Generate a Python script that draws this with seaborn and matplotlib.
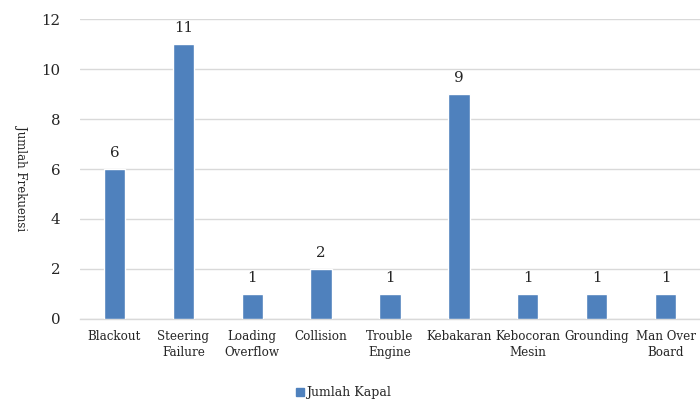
import matplotlib
matplotlib.use("Agg")
import matplotlib.pyplot as plt
import seaborn as sns
from matplotlib.lines import Line2D

# --- data ---
categories = ["Blackout", "Steering\nFailure", "Loading\nOverflow", "Collision",
              "Trouble\nEngine", "Kebakaran", "Kebocoran\nMesin", "Grounding",
              "Man Over\nBoard"]
values = [6, 11, 1, 2, 1, 9, 1, 1, 1]
series_name = "Jumlah Kapal"
y_label = "Jumlah Frekuensi"

BAR_COLOR = "#4F81BD"
GRID_COLOR = "#D9D9D9"
TEXT_COLOR = "#262626"

sns.set_theme(style="white")
plt.rcParams["font.family"] = ["DejaVu Serif"]

fig = plt.figure(figsize=(7.0, 4.01), dpi=100)
ax = fig.add_axes([0.1143, 0.2045, 0.8857, 0.7481])

sns.barplot(x=categories, y=values, color=BAR_COLOR, width=0.31,
            saturation=1, ax=ax, zorder=3)

ax.set_ylim(0, 12)
ax.set_yticks(range(0, 13, 2))
ax.set_xlim(-0.5, len(categories) - 0.5)
ax.yaxis.grid(True, color=GRID_COLOR, linewidth=1, zorder=0)
ax.set_axisbelow(True)
for s in ["top", "right", "left"]:
    ax.spines[s].set_visible(False)
ax.spines["bottom"].set_color(GRID_COLOR)
ax.spines["bottom"].set_linewidth(1)

ax.tick_params(axis="y", length=0, pad=14, labelsize=10.8, labelcolor=TEXT_COLOR)
ax.tick_params(axis="x", length=0, pad=8, labelsize=8.6, labelcolor=TEXT_COLOR)
for lbl in ax.get_xticklabels():
    lbl.set_linespacing(1.3)

for i, v in enumerate(values):
    ax.text(i, v + 0.35, str(v), ha="center", va="bottom",
            fontsize=10.8, color=TEXT_COLOR)

ax.set_xlabel("")
ax.set_ylabel("")
fig.text(0.03, 0.556, y_label, rotation=270, ha="center", va="center",
         fontsize=8.5, color=TEXT_COLOR)

handle = Line2D([], [], marker="s", linestyle="none", markersize=6,
                markerfacecolor=BAR_COLOR, markeredgecolor=BAR_COLOR)
fig.legend([handle], [series_name], loc="center", bbox_to_anchor=(0.49, 0.02),
           frameon=False, fontsize=9, handletextpad=0.1,
           handlelength=0.8, labelcolor=TEXT_COLOR)

fig.savefig("out.png", dpi=100)
